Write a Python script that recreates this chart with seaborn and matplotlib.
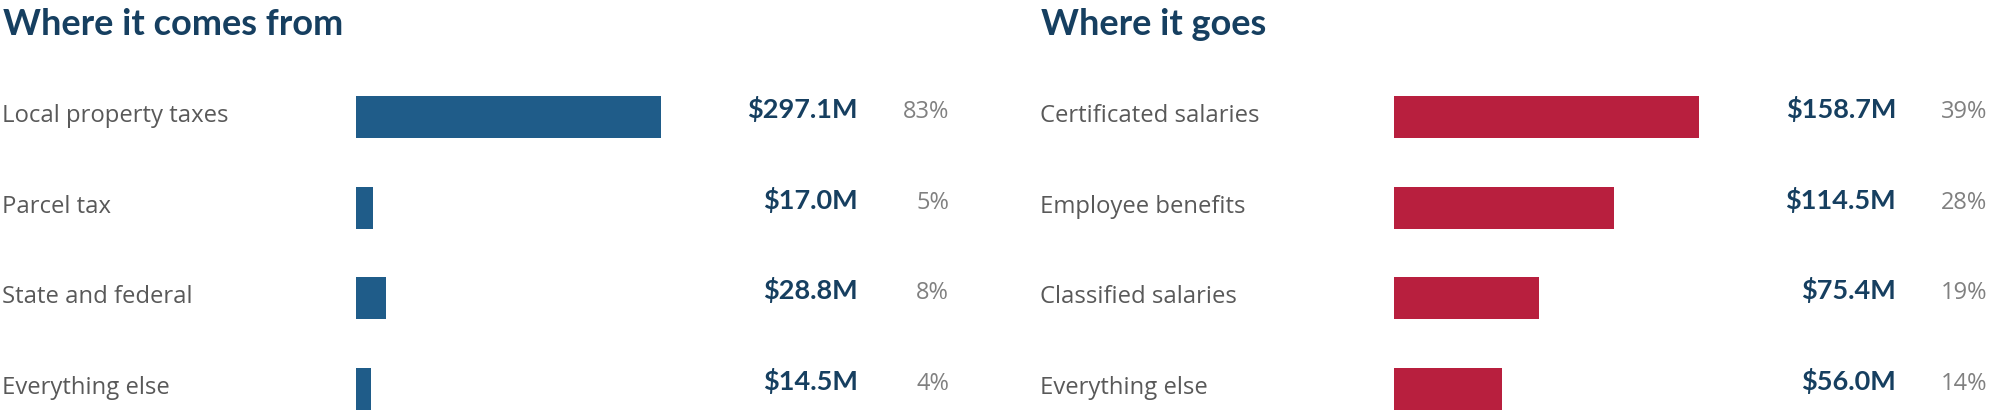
import matplotlib
matplotlib.use("Agg")
import matplotlib.pyplot as plt
import matplotlib.transforms as mtransforms
import seaborn as sns
import pandas as pd

# ---- data ----
income_titles = "Where it comes from"
income_categories = ["Local property taxes", "Parcel tax", "State and federal", "Everything else"]
income_values = [297.1, 17.0, 28.8, 14.5]
income_labels = ["$297.1M", "$17.0M", "$28.8M", "$14.5M"]
income_pcts = ["83%", "5%", "8%", "4%"]

spend_title = "Where it goes"
spend_categories = ["Certificated salaries", "Employee benefits", "Classified salaries", "Everything else"]
spend_values = [158.7, 114.5, 75.4, 56.0]
spend_labels = ["$158.7M", "$114.5M", "$75.4M", "$56.0M"]
spend_pcts = ["39%", "28%", "19%", "14%"]

# ---- style ----
sns.set_theme(style="white")
plt.rcParams["font.family"] = ["Lato", "DejaVu Sans"]

W, H = 2001, 417
DPI = 100
fig = plt.figure(figsize=(W / DPI, H / DPI), dpi=DPI)
fig.patch.set_facecolor("white")

TITLE_C = "#163f60"
VALUE_C = "#163f60"
LABEL_C = "#595959"
PCT_C = "#808080"
BODY_FONT = ["Open Sans", "DejaVu Sans"]

def px2pt(p):
    return p * 72.0 / DPI

def panel(offset, title, cats, vals, labels, pcts, color):
    bar_left = 356 + offset
    bar_w = 305
    top_px, bot_px = 96, 410
    ax = fig.add_axes([bar_left / W, 1 - bot_px / H, bar_w / W, (bot_px - top_px) / H])
    df = pd.DataFrame({"cat": cats, "val": vals})
    sns.barplot(data=df, x="val", y="cat", ax=ax, color=color, width=0.463,
                saturation=1, orient="h", edgecolor="none")
    ax.set_xlim(0, max(vals))
    ax.set_ylim(len(cats) - 1 + 0.2315, -0.2315)
    ax.axis("off")

    # title
    fig.text((3 + offset) / W, 1 - 35 / H, title, fontsize=26, fontweight="bold",
             color=TITLE_C, ha="left", va="baseline")

    blend = mtransforms.blended_transform_factory(fig.transFigure, ax.transData)
    t_label = mtransforms.offset_copy(blend, fig=fig, x=0, y=-px2pt(5), units="points")
    t_val = mtransforms.offset_copy(blend, fig=fig, x=0, y=-px2pt(1), units="points")
    for i, (c, lab, p) in enumerate(zip(cats, labels, pcts)):
        ax.text((2 + offset) / W, i, c, transform=t_label, fontsize=17.2,
                family=BODY_FONT, color=LABEL_C, ha="left", va="baseline", clip_on=False)
        ax.text((858 + offset) / W, i, lab, transform=t_val, fontsize=19.5,
                fontweight="bold", color=VALUE_C, ha="right", va="baseline", clip_on=False)
        ax.text((949 + offset) / W, i, p, transform=t_val, fontsize=17,
                family=BODY_FONT, color=PCT_C, ha="right", va="baseline", clip_on=False)

panel(0, income_titles, income_categories, income_values, income_labels, income_pcts, "#1f5c89")
panel(1038, spend_title, spend_categories, spend_values, spend_labels, spend_pcts, "#b81f3e")

fig.savefig("out.png", dpi=DPI, facecolor="white")
